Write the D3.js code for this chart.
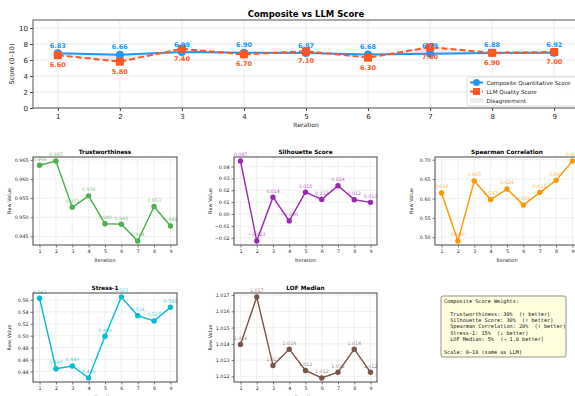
<!DOCTYPE html>
<html>
<head>
<meta charset="utf-8">
<script src="https://cdn.jsdelivr.net/npm/d3@7"></script>
<style>
  html, body { margin: 0; padding: 0; background: #fff; }
  svg { display: block; font-family: "DejaVu Sans", sans-serif; }
</style>
</head>
<body>
<svg id="chart" width="575" height="396"></svg>
<script>
// ---- data ----
const iterations = [1, 2, 3, 4, 5, 6, 7, 8, 9];
const compositeScore = [6.83, 6.66, 6.99, 6.90, 6.87, 6.68, 6.79, 6.88, 6.92];
const llmScore = [6.60, 5.80, 7.40, 6.70, 7.10, 6.30, 7.60, 6.90, 7.00];
const scoreTicks = [0, 2, 4, 6, 8, 10];

const trustworthiness = [0.9636, 0.9647, 0.9526, 0.9556, 0.9483, 0.9482, 0.9438, 0.9528, 0.9477];
const trustTicks = [0.945, 0.950, 0.955, 0.960, 0.965];
const silhouette = [0.0446, -0.0227, 0.0142, -0.0058, 0.0184, 0.0123, 0.0238, 0.0121, 0.0098];
const silhouetteTicks = [-0.02, -0.01, 0.00, 0.01, 0.02, 0.03, 0.04];
const spearman = [0.6141, 0.4902, 0.6452, 0.5972, 0.6243, 0.5832, 0.6152, 0.6468, 0.6967];
const spearmanTicks = [0.50, 0.55, 0.60, 0.65, 0.70];
const stress = [0.5628, 0.4446, 0.4492, 0.4292, 0.4992, 0.5648, 0.5336, 0.5248, 0.5476];
const stressTicks = [0.44, 0.46, 0.48, 0.50, 0.52, 0.54, 0.56];
const lofMedian = [1.01396, 1.01688, 1.01267, 1.01367, 1.01236, 1.01190, 1.01225, 1.01367, 1.01225];
const lofTicks = [1.012, 1.013, 1.014, 1.015, 1.016, 1.017];

const weightLines = [
  "Composite Score Weights:",
  "",
  "  Trustworthiness: 30%  (\u2191 better)",
  "  Silhouette Score: 30%  (\u2191 better)",
  "  Spearman Correlation: 20%  (\u2191 better)",
  "  Stress-1: 15%  (\u2193 better)",
  "  LOF Median: 5%  (\u2192 1.0 better)",
  "",
  "Scale: 0\u201310 (same as LLM)"
];

const svg = d3.select("#chart");
svg.append("rect").attr("width", 575).attr("height", 396).attr("fill", "#fff");

const minus = s => s.replace("-", "\u2212");
const xDomain = [0.6, 9.4];

// ---- main comparison chart ----
(function () {
  const L = 33, R = 579, T = 20, B = 108;
  const x = d3.scaleLinear().domain(xDomain).range([L, R]);
  const y = d3.scaleLinear().domain([0, 11]).range([B, T]);
  const g = svg.append("g");

  // grid
  g.append("g").selectAll("line").data(iterations).join("line")
    .attr("x1", d => x(d)).attr("x2", d => x(d)).attr("y1", T).attr("y2", B)
    .attr("stroke", "#e6e6e6").attr("stroke-width", 0.8);
  g.append("g").selectAll("line").data(scoreTicks).join("line")
    .attr("x1", L).attr("x2", R).attr("y1", d => y(d)).attr("y2", d => y(d))
    .attr("stroke", "#e6e6e6").attr("stroke-width", 0.8);

  // disagreement band between the two series
  const band = d3.area()
    .x((d, i) => x(iterations[i]))
    .y0((d, i) => y(compositeScore[i]))
    .y1((d, i) => y(llmScore[i]));
  g.append("path").datum(iterations).attr("d", band)
    .attr("fill", "#9e9e9e").attr("fill-opacity", 0.2);

  const line = vals => d3.line().x((d, i) => x(iterations[i])).y(d => y(d))(vals);

  g.append("path").attr("d", line(compositeScore))
    .attr("fill", "none").attr("stroke", "#2196F3").attr("stroke-width", 2);
  g.append("path").attr("d", line(llmScore))
    .attr("fill", "none").attr("stroke", "#FF5722").attr("stroke-width", 2)
    .attr("stroke-dasharray", "6,3");

  g.append("g").selectAll("circle").data(compositeScore).join("circle")
    .attr("cx", (d, i) => x(iterations[i])).attr("cy", d => y(d)).attr("r", 4)
    .attr("fill", "#2196F3");
  g.append("g").selectAll("rect").data(llmScore).join("rect")
    .attr("x", (d, i) => x(iterations[i]) - 4).attr("y", d => y(d) - 4)
    .attr("width", 8).attr("height", 8).attr("fill", "#FF5722");

  g.append("g").selectAll("text").data(compositeScore).join("text")
    .attr("x", (d, i) => x(iterations[i])).attr("y", d => y(d) - 5.5)
    .attr("text-anchor", "middle").attr("font-size", 6.5).attr("font-weight", "bold")
    .attr("fill", "#2196F3").text(d => d3.format(".2f")(d));
  g.append("g").selectAll("text").data(llmScore).join("text")
    .attr("x", (d, i) => x(iterations[i])).attr("y", d => y(d) + 12)
    .attr("text-anchor", "middle").attr("font-size", 6.5).attr("font-weight", "bold")
    .attr("fill", "#FF5722").text(d => d3.format(".2f")(d));

  // axes
  const xa = g.append("g").attr("transform", `translate(0,${B})`)
    .call(d3.axisBottom(x).tickValues(iterations).tickSize(3).tickPadding(3).tickFormat(d3.format("d")));
  const ya = g.append("g").attr("transform", `translate(${L},0)`)
    .call(d3.axisLeft(y).tickValues(scoreTicks).tickSize(3).tickPadding(2).tickFormat(d3.format("d")));
  [xa, ya].forEach(a => {
    a.select(".domain").remove();
    a.selectAll("text").attr("font-size", 7).attr("fill", "#222").attr("font-family", "DejaVu Sans");
    a.selectAll("line").attr("stroke", "#444");
  });
  g.append("rect").attr("x", L).attr("y", T).attr("width", R - L).attr("height", B - T)
    .attr("fill", "none").attr("stroke", "#555").attr("stroke-width", 1);

  svg.append("text").attr("x", 306).attr("y", 17).attr("text-anchor", "middle")
    .attr("font-size", 8.5).attr("font-weight", "bold").text("Composite vs LLM Score");
  svg.append("text").attr("x", 306).attr("y", 127).attr("text-anchor", "middle")
    .attr("font-size", 6).attr("fill", "#222").text("Iteration");
  svg.append("text").attr("transform", `translate(14,${(T + B) / 2}) rotate(-90)`)
    .attr("text-anchor", "middle").attr("font-size", 6.5).attr("fill", "#222").text("Score (0\u201310)");

  // legend
  const lg = svg.append("g").attr("transform", "translate(467,77)");
  lg.append("rect").attr("width", 115).attr("height", 29).attr("rx", 2)
    .attr("fill", "#fff").attr("fill-opacity", 0.85).attr("stroke", "#d0d0d0").attr("stroke-width", 0.8);
  const items = [
    { label: "Composite Quantitative Score", kind: "circle" },
    { label: "LLM Quality Score", kind: "square" },
    { label: "Disagreement", kind: "patch" }
  ];
  items.forEach((it, i) => {
    const cy = 5.5 + i * 9;
    if (it.kind === "circle") {
      lg.append("line").attr("x1", 3).attr("x2", 16).attr("y1", cy).attr("y2", cy)
        .attr("stroke", "#2196F3").attr("stroke-width", 2);
      lg.append("circle").attr("cx", 9.5).attr("cy", cy).attr("r", 3.5).attr("fill", "#2196F3");
    } else if (it.kind === "square") {
      lg.append("line").attr("x1", 3).attr("x2", 16).attr("y1", cy).attr("y2", cy)
        .attr("stroke", "#FF5722").attr("stroke-width", 2).attr("stroke-dasharray", "4,2");
      lg.append("rect").attr("x", 6).attr("y", cy - 3.5).attr("width", 7).attr("height", 7).attr("fill", "#FF5722");
    } else {
      lg.append("rect").attr("x", 3).attr("y", cy - 2.5).attr("width", 13).attr("height", 5)
        .attr("fill", "#9e9e9e").attr("fill-opacity", 0.2);
    }
    lg.append("text").attr("x", 19.5).attr("y", cy + 2).attr("font-size", 5.6).attr("fill", "#222").text(it.label);
  });
})();

// ---- metric panels ----
function panel(opts) {
  const { L, R, T, B, title, values, color, ticks, tickFmt, labelFmt } = opts;
  const x = d3.scaleLinear().domain(xDomain).range([L, R]);
  const [lo, hi] = d3.extent(values);
  const pad = (hi - lo) * 0.05;
  const y = d3.scaleLinear().domain([lo - pad, hi + pad]).range([B, T]);
  const g = svg.append("g");

  g.append("g").selectAll("line").data(iterations).join("line")
    .attr("x1", d => x(d)).attr("x2", d => x(d)).attr("y1", T).attr("y2", B)
    .attr("stroke", "#e8e8e8").attr("stroke-width", 0.7);
  g.append("g").selectAll("line").data(ticks).join("line")
    .attr("x1", L).attr("x2", R).attr("y1", d => y(d)).attr("y2", d => y(d))
    .attr("stroke", "#e8e8e8").attr("stroke-width", 0.7);

  g.append("path")
    .attr("d", d3.line().x((d, i) => x(iterations[i])).y(d => y(d))(values))
    .attr("fill", "none").attr("stroke", color).attr("stroke-width", 1.4);
  g.append("g").selectAll("circle").data(values).join("circle")
    .attr("cx", (d, i) => x(iterations[i])).attr("cy", d => y(d)).attr("r", 2.7).attr("fill", color);
  g.append("g").selectAll("text").data(values).join("text")
    .attr("x", (d, i) => x(iterations[i])).attr("y", d => y(d) - 4.6)
    .attr("text-anchor", "middle").attr("font-size", 4.8).attr("fill", color).attr("fill-opacity", 0.75)
    .text(d => minus(labelFmt(d)));

  const xa = g.append("g").attr("transform", `translate(0,${B})`)
    .call(d3.axisBottom(x).tickValues(iterations).tickSize(2.5).tickPadding(2).tickFormat(d3.format("d")));
  const ya = g.append("g").attr("transform", `translate(${L},0)`)
    .call(d3.axisLeft(y).tickValues(ticks).tickSize(2.5).tickPadding(2).tickFormat(d => minus(tickFmt(d))));
  [xa, ya].forEach(a => {
    a.select(".domain").remove();
    a.selectAll("text").attr("font-size", 4.8).attr("fill", "#222").attr("font-family", "DejaVu Sans");
    a.selectAll("line").attr("stroke", "#444").attr("stroke-width", 0.7);
  });
  g.append("rect").attr("x", L).attr("y", T).attr("width", R - L).attr("height", B - T)
    .attr("fill", "none").attr("stroke", "#444").attr("stroke-width", 1);

  svg.append("text").attr("x", (L + R) / 2).attr("y", T - 3.5).attr("text-anchor", "middle")
    .attr("font-size", 5.8).attr("font-weight", "bold").text(title);
  svg.append("text").attr("x", (L + R) / 2).attr("y", B + 17).attr("text-anchor", "middle")
    .attr("font-size", 5).attr("fill", "#222").text("Iteration");
  svg.append("text").attr("transform", `translate(${L - 22},${(T + B) / 2}) rotate(-90)`)
    .attr("text-anchor", "middle").attr("font-size", 5).attr("fill", "#222").text("Raw Value");
}

const f3 = d3.format(".3f"), f2 = d3.format(".2f");
panel({ L: 33, R: 177, T: 157, B: 245, title: "Trustworthiness", values: trustworthiness,
        color: "#4CAF50", ticks: trustTicks, tickFmt: f3, labelFmt: f3 });
panel({ L: 234, R: 377, T: 157, B: 245, title: "Silhouette Score", values: silhouette,
        color: "#9C27B0", ticks: silhouetteTicks, tickFmt: f2, labelFmt: f3 });
panel({ L: 435, R: 579, T: 157, B: 245, title: "Spearman Correlation", values: spearman,
        color: "#FF9800", ticks: spearmanTicks, tickFmt: f2, labelFmt: f3 });
panel({ L: 33, R: 177, T: 293, B: 382, title: "Stress-1", values: stress,
        color: "#00BCD4", ticks: stressTicks, tickFmt: f2, labelFmt: f3 });
panel({ L: 234, R: 377, T: 293, B: 382, title: "LOF Median", values: lofMedian,
        color: "#795548", ticks: lofTicks, tickFmt: f3, labelFmt: f3 });

// ---- weights note ----
(function () {
  const g = svg.append("g").attr("transform", "translate(441,296)");
  g.append("rect").attr("width", 125).attr("height", 61).attr("rx", 2)
    .attr("fill", "#FFFFE0").attr("stroke", "#777").attr("stroke-width", 0.8);
  g.append("g").selectAll("text").data(weightLines).join("text")
    .attr("x", 3).attr("y", (d, i) => 6.8 + i * 6.35)
    .attr("font-family", "DejaVu Sans Mono").attr("font-size", 5.2).attr("fill", "#111")
    .attr("xml:space", "preserve").style("white-space", "pre")
    .text(d => d);
})();
</script>
</body>
</html>
